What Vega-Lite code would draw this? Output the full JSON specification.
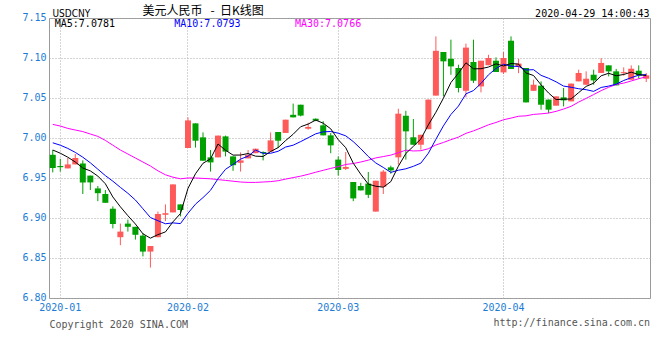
{
  "$schema": "https://vega.github.io/schema/vega-lite/v6.json",
  "width": 601,
  "height": 280,
  "autosize": {"type": "none"},
  "padding": {"left": 49, "top": 18, "right": 10, "bottom": 62},
  "background": "#ffffff",
  "title": {"text": "http://finance.sina.com.cn", "orient": "bottom", "anchor": "end", "frame": "group", "font": "DejaVu Sans Mono", "fontSize": 10, "fontWeight": "normal", "color": "#555555", "baseline": "alphabetic", "offset": 0, "dy": -3},
  "config": {
    "view": {"stroke": "#9a9a9a", "strokeWidth": 1},
    "axis": {"domain": false, "ticks": false, "tickSize": 0, "labelFont": "DejaVu Sans Mono", "labelFontSize": 10, "labelColor": "#1c7cd5", "gridColor": "#aaaaaa", "gridDash": [1, 2], "gridWidth": 1}
  },
  "data": {"values": [
    {"date": "2019-12-31", "open": 6.979, "high": 6.985, "low": 6.957, "close": 6.9625, "ma5": 6.985, "ma10": 6.994, "ma30": 7.017},
    {"date": "2020-01-02", "open": 6.965, "high": 6.974, "low": 6.958, "close": 6.9635, "ma5": 6.981, "ma10": 6.991, "ma30": 7.015},
    {"date": "2020-01-03", "open": 6.962, "high": 6.975, "low": 6.962, "close": 6.967, "ma5": 6.976, "ma10": 6.987, "ma30": 7.012},
    {"date": "2020-01-06", "open": 6.967, "high": 6.98, "low": 6.967, "close": 6.975, "ma5": 6.97, "ma10": 6.982, "ma30": 7.01},
    {"date": "2020-01-07", "open": 6.968, "high": 6.972, "low": 6.93, "close": 6.9445, "ma5": 6.9625, "ma10": 6.976, "ma30": 7.008},
    {"date": "2020-01-08", "open": 6.953, "high": 6.953, "low": 6.935, "close": 6.9445, "ma5": 6.9589, "ma10": 6.969, "ma30": 7.005},
    {"date": "2020-01-09", "open": 6.937, "high": 6.94, "low": 6.921, "close": 6.931, "ma5": 6.9524, "ma10": 6.961, "ma30": 7.002},
    {"date": "2020-01-10", "open": 6.93, "high": 6.935, "low": 6.919, "close": 6.919, "ma5": 6.9428, "ma10": 6.953, "ma30": 6.997},
    {"date": "2020-01-13", "open": 6.9116, "high": 6.9145, "low": 6.887, "close": 6.8925, "ma5": 6.9263, "ma10": 6.946, "ma30": 6.991},
    {"date": "2020-01-14", "open": 6.876, "high": 6.893, "low": 6.866, "close": 6.883, "ma5": 6.914, "ma10": 6.9383, "ma30": 6.985},
    {"date": "2020-01-15", "open": 6.893, "high": 6.898, "low": 6.883, "close": 6.889, "ma5": 6.9029, "ma10": 6.9309, "ma30": 6.98},
    {"date": "2020-01-16", "open": 6.889, "high": 6.889, "low": 6.873, "close": 6.879, "ma5": 6.8925, "ma10": 6.9225, "ma30": 6.975},
    {"date": "2020-01-17", "open": 6.878, "high": 6.881, "low": 6.852, "close": 6.858, "ma5": 6.8803, "ma10": 6.9116, "ma30": 6.97},
    {"date": "2020-01-19", "open": 6.858, "high": 6.865, "low": 6.838, "close": 6.865, "ma5": 6.8748, "ma10": 6.9006, "ma30": 6.965},
    {"date": "2020-01-20", "open": 6.876, "high": 6.908, "low": 6.876, "close": 6.905, "ma5": 6.8792, "ma10": 6.8966, "ma30": 6.959},
    {"date": "2020-01-21", "open": 6.904, "high": 6.917, "low": 6.896, "close": 6.906, "ma5": 6.8826, "ma10": 6.8928, "ma30": 6.954},
    {"date": "2020-01-22", "open": 6.907, "high": 6.942, "low": 6.907, "close": 6.942, "ma5": 6.8952, "ma10": 6.8939, "ma30": 6.951},
    {"date": "2020-01-23", "open": 6.917, "high": 6.917, "low": 6.902, "close": 6.91, "ma5": 6.9056, "ma10": 6.893, "ma30": 6.949},
    {"date": "2020-02-03", "open": 6.9875, "high": 7.0258, "low": 6.9875, "close": 7.022, "ma5": 6.937, "ma10": 6.9059, "ma30": 6.95},
    {"date": "2020-02-04", "open": 7.0183, "high": 7.0183, "low": 6.988, "close": 6.9966, "ma5": 6.9553, "ma10": 6.9173, "ma30": 6.95},
    {"date": "2020-02-05", "open": 7.0008, "high": 7.007, "low": 6.9716, "close": 6.9716, "ma5": 6.9684, "ma10": 6.9255, "ma30": 6.9495},
    {"date": "2020-02-06", "open": 6.9758, "high": 6.985, "low": 6.958, "close": 6.9695, "ma5": 6.9739, "ma10": 6.9346, "ma30": 6.949},
    {"date": "2020-02-07", "open": 6.9758, "high": 7.003, "low": 6.9758, "close": 7.003, "ma5": 6.9925, "ma10": 6.9491, "ma30": 6.948},
    {"date": "2020-02-10", "open": 7.002, "high": 7.003, "low": 6.977, "close": 6.983, "ma5": 6.9847, "ma10": 6.9609, "ma30": 6.947},
    {"date": "2020-02-11", "open": 6.977, "high": 6.977, "low": 6.959, "close": 6.966, "ma5": 6.9786, "ma10": 6.967, "ma30": 6.946},
    {"date": "2020-02-12", "open": 6.969, "high": 6.982, "low": 6.958, "close": 6.972, "ma5": 6.9787, "ma10": 6.9736, "ma30": 6.945},
    {"date": "2020-02-13", "open": 6.9745, "high": 6.985, "low": 6.9745, "close": 6.979, "ma5": 6.9806, "ma10": 6.9773, "ma30": 6.9445},
    {"date": "2020-02-14", "open": 6.981, "high": 6.9866, "low": 6.981, "close": 6.9866, "ma5": 6.9773, "ma10": 6.9849, "ma30": 6.9445},
    {"date": "2020-02-17", "open": 6.9825, "high": 6.9833, "low": 6.972, "close": 6.981, "ma5": 6.9769, "ma10": 6.9808, "ma30": 6.945},
    {"date": "2020-02-18", "open": 6.983, "high": 7.007, "low": 6.983, "close": 6.997, "ma5": 6.9831, "ma10": 6.9809, "ma30": 6.9455},
    {"date": "2020-02-19", "open": 7.0075, "high": 7.0075, "low": 6.9875, "close": 6.9966, "ma5": 6.988, "ma10": 6.9834, "ma30": 6.9466},
    {"date": "2020-02-20", "open": 7.0063, "high": 7.0229, "low": 7.0063, "close": 7.0229, "ma5": 6.9968, "ma10": 6.9887, "ma30": 6.9486},
    {"date": "2020-02-21", "open": 7.029, "high": 7.043, "low": 7.0258, "close": 7.0258, "ma5": 7.0047, "ma10": 6.991, "ma30": 6.9505},
    {"date": "2020-02-24", "open": 7.0416, "high": 7.0416, "low": 7.027, "close": 7.028, "ma5": 7.0141, "ma10": 6.9955, "ma30": 6.9523},
    {"date": "2020-02-25", "open": 7.0116, "high": 7.019, "low": 7.0104, "close": 7.0138, "ma5": 7.0174, "ma10": 7.0003, "ma30": 6.9546},
    {"date": "2020-02-26", "open": 7.0241, "high": 7.0245, "low": 7.021, "close": 7.0216, "ma5": 7.0224, "ma10": 7.0052, "ma30": 6.9572},
    {"date": "2020-02-27", "open": 7.0158, "high": 7.021, "low": 7.0033, "close": 7.0033, "ma5": 7.0185, "ma10": 7.0077, "ma30": 6.9596},
    {"date": "2020-02-28", "open": 7.0033, "high": 7.0063, "low": 6.981, "close": 6.9908, "ma5": 7.0115, "ma10": 7.0081, "ma30": 6.962},
    {"date": "2020-03-02", "open": 6.973, "high": 6.977, "low": 6.953, "close": 6.96, "ma5": 6.9979, "ma10": 7.006, "ma30": 6.9642},
    {"date": "2020-03-03", "open": 6.9614, "high": 6.9825, "low": 6.96, "close": 6.9638, "ma5": 6.9879, "ma10": 7.0027, "ma30": 6.9669},
    {"date": "2020-03-04", "open": 6.945, "high": 6.945, "low": 6.921, "close": 6.9245, "ma5": 6.9685, "ma10": 6.9955, "ma30": 6.9681},
    {"date": "2020-03-05", "open": 6.94, "high": 6.944, "low": 6.9345, "close": 6.9345, "ma5": 6.9547, "ma10": 6.9866, "ma30": 6.97},
    {"date": "2020-03-06", "open": 6.943, "high": 6.9575, "low": 6.925, "close": 6.929, "ma5": 6.9424, "ma10": 6.9769, "ma30": 6.9723},
    {"date": "2020-03-09", "open": 6.908, "high": 6.9466, "low": 6.908, "close": 6.9466, "ma5": 6.9397, "ma10": 6.9688, "ma30": 6.9751},
    {"date": "2020-03-10", "open": 6.939, "high": 6.96, "low": 6.93, "close": 6.958, "ma5": 6.9385, "ma10": 6.9632, "ma30": 6.9768},
    {"date": "2020-03-11", "open": 6.9633, "high": 6.9654, "low": 6.9554, "close": 6.9595, "ma5": 6.9455, "ma10": 6.957, "ma30": 6.9786},
    {"date": "2020-03-12", "open": 6.9758, "high": 7.0366, "low": 6.9666, "close": 7.0304, "ma5": 6.9647, "ma10": 6.9597, "ma30": 6.9816},
    {"date": "2020-03-13", "open": 7.0278, "high": 7.034, "low": 6.973, "close": 7.0083, "ma5": 6.9806, "ma10": 6.9615, "ma30": 6.9848},
    {"date": "2020-03-16", "open": 7.0009, "high": 7.0238, "low": 6.9916, "close": 6.9916, "ma5": 6.9896, "ma10": 6.9646, "ma30": 6.9838},
    {"date": "2020-03-17", "open": 6.9916, "high": 7.004, "low": 6.9854, "close": 7.004, "ma5": 6.9988, "ma10": 6.9686, "ma30": 6.9841},
    {"date": "2020-03-18", "open": 7.011, "high": 7.048, "low": 7.011, "close": 7.048, "ma5": 7.0165, "ma10": 6.981, "ma30": 6.9866},
    {"date": "2020-03-19", "open": 7.053, "high": 7.127, "low": 7.053, "close": 7.109, "ma5": 7.0322, "ma10": 6.9984, "ma30": 6.9913},
    {"date": "2020-03-20", "open": 7.1075, "high": 7.1075, "low": 7.052, "close": 7.0958, "ma5": 7.0497, "ma10": 7.0151, "ma30": 6.9944},
    {"date": "2020-03-23", "open": 7.099, "high": 7.1229, "low": 7.079, "close": 7.0895, "ma5": 7.0693, "ma10": 7.0294, "ma30": 6.9979},
    {"date": "2020-03-24", "open": 7.0875, "high": 7.0916, "low": 7.057, "close": 7.0625, "ma5": 7.081, "ma10": 7.0399, "ma30": 7.0011},
    {"date": "2020-03-25", "open": 7.059, "high": 7.118, "low": 7.0508, "close": 7.113, "ma5": 7.094, "ma10": 7.0552, "ma30": 7.0058},
    {"date": "2020-03-26", "open": 7.095, "high": 7.1229, "low": 7.0688, "close": 7.0716, "ma5": 7.0865, "ma10": 7.0593, "ma30": 7.0089},
    {"date": "2020-03-27", "open": 7.0645, "high": 7.0966, "low": 7.057, "close": 7.0966, "ma5": 7.0866, "ma10": 7.0682, "ma30": 7.0126},
    {"date": "2020-03-30", "open": 7.091, "high": 7.104, "low": 7.091, "close": 7.1, "ma5": 7.0887, "ma10": 7.079, "ma30": 7.0165},
    {"date": "2020-03-31", "open": 7.0966, "high": 7.1008, "low": 7.0825, "close": 7.0825, "ma5": 7.0927, "ma10": 7.0869, "ma30": 7.0194},
    {"date": "2020-04-01", "open": 7.082, "high": 7.1075, "low": 7.08, "close": 7.1, "ma5": 7.0901, "ma10": 7.0921, "ma30": 7.0228},
    {"date": "2020-04-02", "open": 7.1216, "high": 7.127, "low": 7.0863, "close": 7.0863, "ma5": 7.0931, "ma10": 7.0898, "ma30": 7.0249},
    {"date": "2020-04-03", "open": 7.089, "high": 7.099, "low": 7.081, "close": 7.093, "ma5": 7.0924, "ma10": 7.0895, "ma30": 7.0272},
    {"date": "2020-04-07", "open": 7.0875, "high": 7.0875, "low": 7.0445, "close": 7.0445, "ma5": 7.0813, "ma10": 7.085, "ma30": 7.0277},
    {"date": "2020-04-08", "open": 7.059, "high": 7.073, "low": 7.059, "close": 7.0666, "ma5": 7.0781, "ma10": 7.0854, "ma30": 7.0295},
    {"date": "2020-04-09", "open": 7.0654, "high": 7.0708, "low": 7.0354, "close": 7.0416, "ma5": 7.0664, "ma10": 7.0783, "ma30": 7.0302},
    {"date": "2020-04-10", "open": 7.048, "high": 7.048, "low": 7.031, "close": 7.0354, "ma5": 7.0562, "ma10": 7.0747, "ma30": 7.0312},
    {"date": "2020-04-13", "open": 7.0404, "high": 7.052, "low": 7.0404, "close": 7.052, "ma5": 7.048, "ma10": 7.0702, "ma30": 7.0333},
    {"date": "2020-04-14", "open": 7.0508, "high": 7.0625, "low": 7.0395, "close": 7.047, "ma5": 7.0485, "ma10": 7.0649, "ma30": 7.0362},
    {"date": "2020-04-15", "open": 7.0458, "high": 7.068, "low": 7.0458, "close": 7.068, "ma5": 7.0488, "ma10": 7.0634, "ma30": 7.0396},
    {"date": "2020-04-16", "open": 7.0708, "high": 7.0854, "low": 7.0708, "close": 7.0813, "ma5": 7.0567, "ma10": 7.0616, "ma30": 7.0449},
    {"date": "2020-04-17", "open": 7.0666, "high": 7.0833, "low": 7.0666, "close": 7.0741, "ma5": 7.0645, "ma10": 7.0604, "ma30": 7.0495},
    {"date": "2020-04-20", "open": 7.0791, "high": 7.0854, "low": 7.0666, "close": 7.072, "ma5": 7.0685, "ma10": 7.0583, "ma30": 7.0543},
    {"date": "2020-04-21", "open": 7.0813, "high": 7.1, "low": 7.0813, "close": 7.0938, "ma5": 7.0778, "ma10": 7.0632, "ma30": 7.0592},
    {"date": "2020-04-22", "open": 7.0908, "high": 7.0908, "low": 7.077, "close": 7.0833, "ma5": 7.0809, "ma10": 7.0649, "ma30": 7.0634},
    {"date": "2020-04-23", "open": 7.0833, "high": 7.0863, "low": 7.0658, "close": 7.0658, "ma5": 7.0778, "ma10": 7.0673, "ma30": 7.0669},
    {"date": "2020-04-24", "open": 7.081, "high": 7.0883, "low": 7.0779, "close": 7.0823, "ma5": 7.0794, "ma10": 7.0719, "ma30": 7.0686},
    {"date": "2020-04-27", "open": 7.0729, "high": 7.0908, "low": 7.0729, "close": 7.0866, "ma5": 7.0823, "ma10": 7.0754, "ma30": 7.0713},
    {"date": "2020-04-28", "open": 7.0841, "high": 7.0908, "low": 7.0741, "close": 7.0783, "ma5": 7.0792, "ma10": 7.0785, "ma30": 7.0741},
    {"date": "2020-04-29", "open": 7.0741, "high": 7.0813, "low": 7.07, "close": 7.0783, "ma5": 7.0781, "ma10": 7.0793, "ma30": 7.0766}
  ]},
  "resolve": {"axis": {"x": "independent", "y": "independent"}},
  "layer": [
    {
      "mark": {"type": "rule", "strokeWidth": 1},
      "encoding": {
        "x": {"field": "date", "type": "ordinal", "sort": null, "scale": {"paddingInner": 0, "paddingOuter": 0},
          "axis": {"values": ["2020-01-02", "2020-02-03", "2020-03-02", "2020-04-01"], "labelExpr": "substring(datum.value, 0, 7)", "labelAngle": 0, "labelPadding": 4, "labelBaseline": "top", "labelAlign": "center", "grid": true,
            "title": "Copyright 2020 SINA.COM", "titleX": 0, "titleY": 29, "titleAlign": "left", "titleAnchor": null, "titleBaseline": "alphabetic", "titleFont": "DejaVu Sans Mono", "titleFontSize": 10, "titleFontWeight": "normal", "titleColor": "#555555"}},
        "y": {"field": "low", "type": "quantitative", "scale": {"domain": [6.8, 7.15], "nice": false, "zero": false},
          "axis": {"values": [6.8, 6.85, 6.9, 6.95, 7.0, 7.05, 7.1, 7.15], "format": ".2f", "labelPadding": 3, "labelBaseline": "middle", "labelOffset": -1, "grid": true,
            "title": "USDCNY", "titleAngle": 0, "titleX": 3, "titleY": -2, "titleAlign": "left", "titleBaseline": "alphabetic", "titleFont": "DejaVu Sans Condensed", "titleFontSize": 10, "titleFontWeight": "normal", "titleColor": "#000000"}},
        "y2": {"field": "high"},
        "color": {"condition": {"test": "datum.close >= datum.open", "value": "#ff5a5a"}, "value": "#00a000"}
      }
    },
    {
      "mark": {"type": "bar", "width": {"band": 0.8}},
      "encoding": {
        "x": {"field": "date", "type": "ordinal", "sort": null,
          "axis": {"orient": "top", "labels": false, "grid": false, "title": "美元人民币\u00a0\u00a0\u00a0-\u00a0\u00a0日K线图", "titleX": 93, "titleY": -4, "titleAlign": "left", "titleAnchor": null, "titleBaseline": "alphabetic", "titleFont": "Noto Sans CJK SC", "titleFontSize": 12, "titleFontWeight": "normal", "titleColor": "#000000"}},
        "y": {"field": "open", "type": "quantitative",
          "axis": {"orient": "right", "labels": false, "grid": false, "title": "2020-04-29 14:00:43", "titleAngle": 0, "titleX": -1, "titleY": -2, "titleAlign": "right", "titleAnchor": null, "titleBaseline": "alphabetic", "titleFont": "DejaVu Sans Mono", "titleFontSize": 10, "titleFontWeight": "normal", "titleColor": "#000000"}},
        "y2": {"field": "close"},
        "color": {"condition": {"test": "datum.close >= datum.open", "value": "#ff5a5a"}, "value": "#00a000"}
      }
    },
    {
      "mark": {"type": "line", "strokeWidth": 1, "color": "#ff00ff"},
      "encoding": {"x": {"field": "date", "type": "ordinal", "sort": null, "axis": null}, "y": {"field": "ma30", "type": "quantitative", "axis": null}}
    },
    {
      "mark": {"type": "line", "strokeWidth": 1, "color": "#0000ff"},
      "encoding": {"x": {"field": "date", "type": "ordinal", "sort": null, "axis": null}, "y": {"field": "ma10", "type": "quantitative", "axis": null}}
    },
    {
      "mark": {"type": "line", "strokeWidth": 1, "color": "#000000"},
      "encoding": {"x": {"field": "date", "type": "ordinal", "sort": null, "axis": null}, "y": {"field": "ma5", "type": "quantitative", "axis": null}}
    },
    {
      "data": {"values": [{}]},
      "mark": {"type": "text", "align": "left", "baseline": "middle", "font": "DejaVu Sans Mono", "fontSize": 10, "color": "#000000", "dx": 2, "dy": 0.5, "text": "MA5:7.0781"},
      "encoding": {"x": {"datum": "2019-12-31", "type": "ordinal", "axis": null}, "y": {"datum": 7.143, "type": "quantitative", "axis": null}}
    },
    {
      "data": {"values": [{}]},
      "mark": {"type": "text", "align": "left", "baseline": "middle", "font": "DejaVu Sans Mono", "fontSize": 10, "color": "#0000ff", "dx": 1.3, "dy": 0.5, "text": "MA10:7.0793"},
      "encoding": {"x": {"datum": "2020-01-22", "type": "ordinal", "axis": null}, "y": {"datum": 7.143, "type": "quantitative", "axis": null}}
    },
    {
      "data": {"values": [{}]},
      "mark": {"type": "text", "align": "left", "baseline": "middle", "font": "DejaVu Sans Mono", "fontSize": 10, "color": "#ff00ff", "dx": 1.8, "dy": 0.5, "text": "MA30:7.0766"},
      "encoding": {"x": {"datum": "2020-02-21", "type": "ordinal", "axis": null}, "y": {"datum": 7.143, "type": "quantitative", "axis": null}}
    }
  ]
}
